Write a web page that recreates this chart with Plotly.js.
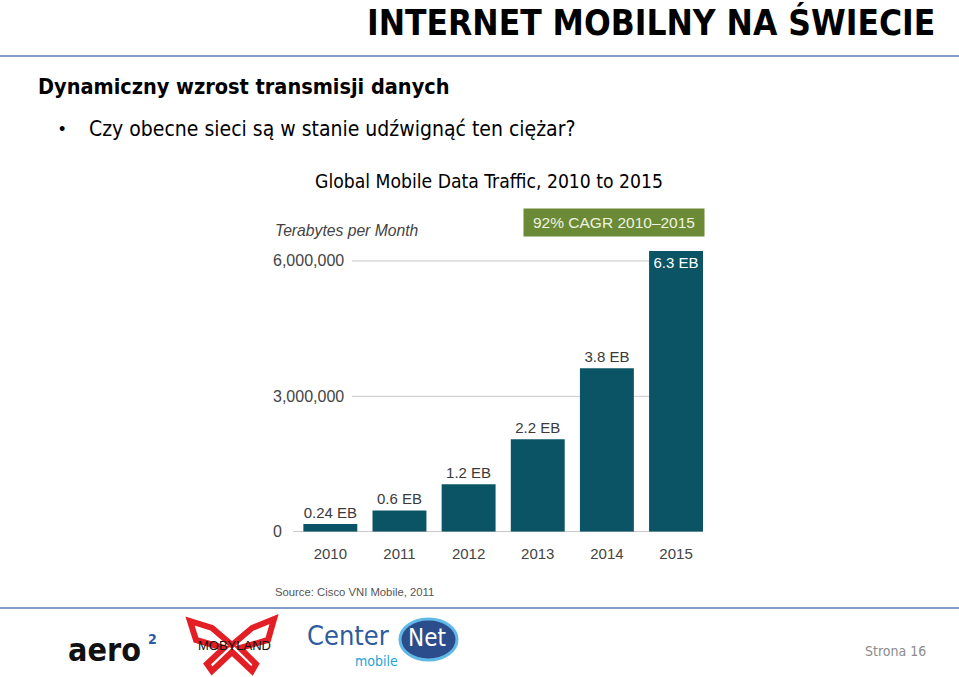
<!DOCTYPE html>
<html>
<head>
<meta charset="utf-8">
<script src="https://cdn.plot.ly/plotly-3.0.1.min.js"></script>
<style>html,body{margin:0;padding:0;background:#fff;}#chart{width:959px;height:677px;}</style>
</head>
<body>
<div id="chart"></div>
<script>
// ---- data ----
const years = ['2010', '2011', '2012', '2013', '2014', '2015'];
const terabytesPerMonth = [170000, 470000, 1050000, 2050000, 3620000, 6220000];
const barLabels = ['0.24 EB', '0.6 EB', '1.2 EB', '2.2 EB', '3.8 EB', '6.3 EB'];
const yTickVals = [0, 3000000, 6000000];
const yTickText = ['0', '3,000,000', '6,000,000'];
const slideTitle = 'INTERNET MOBILNY NA ŚWIECIE';
const heading = 'Dynamiczny wzrost transmisji danych';
const bullet = 'Czy obecne sieci są w stanie udźwignąć ten ciężar?';
const chartTitle = 'Global Mobile Data Traffic, 2010 to 2015';
const yAxisTitle = 'Terabytes per Month';
const cagrText = '92% CAGR 2010–2015';
const sourceText = 'Source: Cisco VNI Mobile, 2011';
const pageText = 'Strona 16';

// ---- layout helpers ----
const W = 959, H = 677;
const px = x => x / W;
const py = y => 1 - y / H;
const slideFont = '"DejaVu Sans Condensed", "DejaVu Sans", sans-serif';
const chartFont = '"Liberation Sans", Arial, sans-serif';
const barColor = '#0b5466';

const trace = {
  type: 'bar',
  x: years.map((_, i) => i),
  y: terabytesPerMonth,
  text: barLabels,
  texttemplate: '%{text}',
  textposition: years.map((_, i) => i === years.length - 1 ? 'inside' : 'outside'),
  insidetextanchor: 'end',
  constraintext: 'none',
  cliponaxis: false,
  insidetextfont: {family: chartFont, size: 15, color: '#ffffff'},
  outsidetextfont: {family: chartFont, size: 15, color: '#3a3a3a'},
  marker: {color: barColor, line: {width: 0}},
  hoverinfo: 'skip'
};

const A = (o) => Object.assign({xref: 'paper', yref: 'paper', yanchor: 'middle', showarrow: false}, o);
const annotations = [];
// slide texts
annotations.push(A({text: '<b>' + slideTitle + '</b>', x: px(937), y: py(22), xanchor: 'right', font: {family: slideFont, size: 35, color: '#000'}}));
annotations.push(A({text: '<b>' + heading + '</b>', x: px(36), y: py(86), xanchor: 'left', font: {family: slideFont, size: 21.5, color: '#000'}}));
annotations.push(A({text: '•', x: px(57), y: py(129), xanchor: 'left', font: {family: chartFont, size: 18, color: '#000'}}));
annotations.push(A({text: bullet, x: px(87), y: py(129), xanchor: 'left', font: {family: slideFont, size: 21, color: '#000'}}));
annotations.push(A({text: chartTitle, x: px(489), y: py(181), xanchor: 'center', font: {family: slideFont, size: 19.2, color: '#000'}}));
// chart internals
annotations.push(A({text: '<i>' + yAxisTitle + '</i>', x: px(273), y: py(230), xanchor: 'left', font: {family: chartFont, size: 15.7, color: '#444'}}));
yTickVals.forEach((v, i) => {
  annotations.push(A({text: yTickText[i], x: px(271), y: v, yref: 'y', xanchor: 'left', font: {family: chartFont, size: 16, color: '#444'}}));
});
annotations.push(A({text: cagrText, x: px(614), y: py(222), xanchor: 'center', bgcolor: '#6b8a35', width: 174, height: 21, borderpad: 3, font: {family: chartFont, size: 15.5, color: '#eef3e0'}}));
annotations.push(A({text: sourceText, x: px(273), y: py(592), xanchor: 'left', font: {family: chartFont, size: 11.3, color: '#555'}}));
// footer
annotations.push(A({text: '<b>aero</b>', x: px(66), y: py(650), xanchor: 'left', font: {family: slideFont, size: 32, color: '#111'}}));
annotations.push(A({text: '<b>2</b>', x: px(146), y: py(639), xanchor: 'left', font: {family: slideFont, size: 14, color: '#2a5aa8'}}));
annotations.push(A({text: 'MOBYLAND', x: px(234), y: py(645), xanchor: 'center', font: {family: chartFont, size: 13, color: '#111'}}));
annotations.push(A({text: 'Center', x: px(305), y: py(635), xanchor: 'left', font: {family: slideFont, size: 27, color: '#2d5b9c'}}));
annotations.push(A({text: 'Net', x: px(427), y: py(638), xanchor: 'center', font: {family: slideFont, size: 24, color: '#fff'}}));
annotations.push(A({text: 'mobile', x: px(376), y: py(661), xanchor: 'center', font: {family: slideFont, size: 14, color: '#1fa3d8'}}));
annotations.push(A({text: pageText, x: px(928), y: py(651), xanchor: 'right', font: {family: slideFont, size: 14, color: '#8c8c8c'}}));

const shapes = [
  // slide rules
  {type: 'line', xref: 'paper', yref: 'paper', x0: 0, x1: 1, y0: py(56), y1: py(56), line: {color: '#7f9cc4', width: 2}},
  {type: 'line', xref: 'paper', yref: 'paper', x0: 0, x1: 1, y0: py(608), y1: py(608), line: {color: '#7f9cc4', width: 2}},
  // MOBYLAND butterfly
  {type: 'path', xref: 'paper', yref: 'paper', path: '', line: {color: '#e31e24', width: 6}, layer: 'below'},
  // CenterNet bubble
  {type: 'circle', xref: 'paper', yref: 'paper', x0: px(400), x1: px(457), y0: py(619), y1: py(660), fillcolor: '#2b4d8c', line: {color: '#5fb8e6', width: 3}, layer: 'below'}
];
// butterfly outline in pixel coordinates converted to paper
const bf = [[190,621],[212,628],[232,645],[252,628],[274,619],[268,640],[240,648],[256,664],[252,671],[232,652],[212,671],[207,664],[224,648],[196,640],[190,621]];
shapes[2].path = 'M' + bf.map(p => px(p[0]) + ',' + py(p[1])).join(' L') + ' Z';
// gridlines (behind bars) for non-zero ticks
yTickVals.filter(v => v !== 0).forEach(v => {
  shapes.push({type: 'line', xref: 'x domain', yref: 'y', x0: 0.144, x1: 1, y0: v, y1: v, line: {color: '#c9c9c9', width: 1}, layer: 'below'});
});

const layout = {
  width: W, height: H,
  margin: {l: 0, r: 0, t: 0, b: 0},
  paper_bgcolor: '#fff', plot_bgcolor: 'rgba(0,0,0,0)',
  showlegend: false,
  bargap: 0.22,
  xaxis: {
    domain: [px(293), px(703)], range: [-0.54, 5.39],
    tickvals: years.map((_, i) => i), ticktext: years,
    ticks: '', showgrid: false, zeroline: false, showline: false,
    tickfont: {family: chartFont, size: 15, color: '#444'},
    ticklabelstandoff: 11, fixedrange: true
  },
  yaxis: {
    domain: [py(531.7), py(238.4)], range: [0, 6500000],
    showticklabels: false, ticks: '', showgrid: false,
    zeroline: true, zerolinecolor: '#c9c9c9', zerolinewidth: 1,
    showline: false, fixedrange: true
  },
  annotations: annotations,
  shapes: shapes
};

Plotly.newPlot('chart', [trace], layout, {displayModeBar: false, staticPlot: true});
</script>
</body>
</html>
